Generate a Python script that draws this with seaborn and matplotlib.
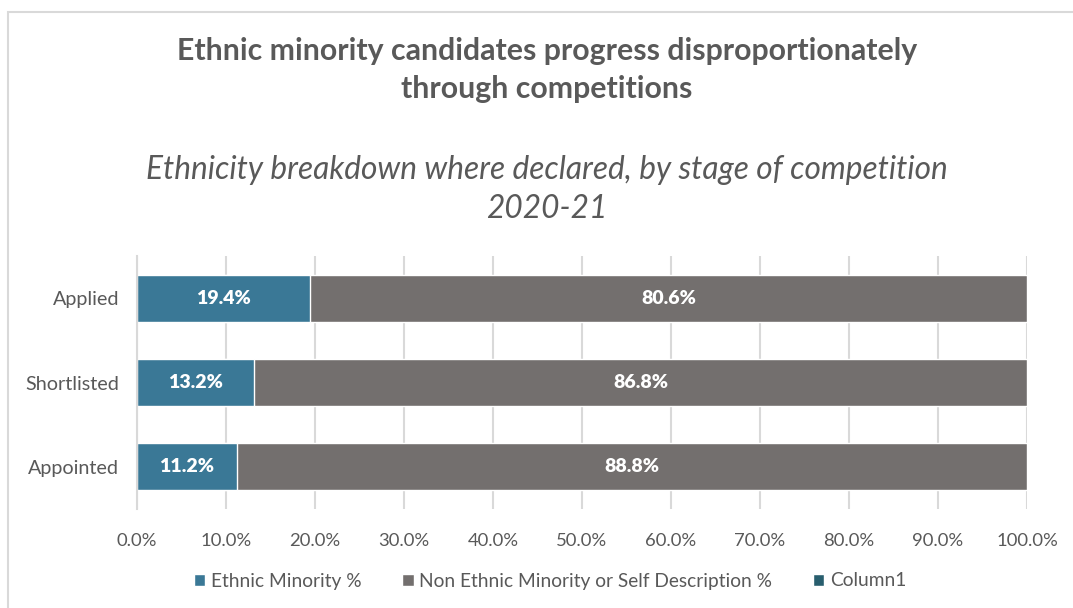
import matplotlib
matplotlib.use("Agg")
import matplotlib.pyplot as plt
import seaborn as sns
import pandas as pd
from matplotlib.patches import Rectangle, Patch

stages = ["Applied", "Shortlisted", "Appointed"]
ethnic_minority = [19.4, 13.2, 11.2]
non_ethnic_minority = [80.6, 86.8, 88.8]
column1 = [0.0, 0.0, 0.0]
xticks = [0, 10, 20, 30, 40, 50, 60, 70, 80, 90, 100]

BLUE = "#3A7896"
GREY = "#736F6E"
DARK = "#285E6E"
TXT = "#595959"

sns.set_theme(style="white")
plt.rcParams["font.family"] = ["Lato", "DejaVu Sans"]

df = pd.DataFrame({"stage": stages, "em": ethnic_minority, "nem": non_ethnic_minority, "c1": column1})
df["total"] = df["em"] + df["nem"]

fig = plt.figure(figsize=(10.73, 6.08), dpi=100)
W, H = 1073, 608
ax = fig.add_axes([137 / W, 1 - 509 / H, (1027 - 137) / W, (509 - 256) / H])

sns.barplot(data=df, y="stage", x="total", color=GREY, orient="h", width=0.56, ax=ax, saturation=1)
sns.barplot(data=df, y="stage", x="em", color=BLUE, orient="h", width=0.56, ax=ax, saturation=1)

for i, (e, n) in enumerate(zip(ethnic_minority, non_ethnic_minority)):
    ax.text(e / 2, i, f"{e:.1f}%", ha="center", va="center", color="white", fontsize=14, fontweight="heavy")
    ax.text(e + n / 2, i, f"{n:.1f}%", ha="center", va="center", color="white", fontsize=14, fontweight="heavy")

ax.set_xlim(0, 100)
ax.set_xticks(xticks)
ax.set_xticklabels([f"{t:.1f}%" for t in xticks], color=TXT, fontsize=13.3)
ax.tick_params(axis="x", length=0, pad=17)
ax.tick_params(axis="y", length=0, pad=13, labelsize=14.2, labelcolor=TXT)
ax.set_xlabel("")
ax.set_ylabel("")
ax.grid(axis="x", color="#D9D9D9", linewidth=1.5)
ax.set_axisbelow(True)
for s in ["top", "right", "bottom"]:
    ax.spines[s].set_visible(False)
ax.spines["left"].set_color("#D9D9D9")
ax.spines["left"].set_linewidth(1.5)

fig.text(547 / W, 1 - 51 / H, "Ethnic minority candidates progress disproportionately", ha="center", va="center",
         fontsize=21.8, fontweight="bold", color=TXT)
fig.text(547 / W, 1 - 89 / H, "through competitions", ha="center", va="center",
         fontsize=21.8, fontweight="bold", color=TXT)
fig.text(547 / W, 1 - 170 / H, "Ethnicity breakdown where declared, by stage of competition", ha="center", va="center",
         fontsize=22.8, fontstyle="italic", color=TXT)
fig.text(547 / W, 1 - 209 / H, "2020-21", ha="center", va="center",
         fontsize=22.8, fontstyle="italic", color=TXT)

fig.patches.append(Rectangle((8 / W, -0.1), 1.2, 1 - 12 / H + 0.1, transform=fig.transFigure,
                             fill=False, edgecolor="#D9D9D9", linewidth=1.5))

handles = [Patch(facecolor=BLUE, label="Ethnic Minority %"),
           Patch(facecolor=GREY, label="Non Ethnic Minority or Self Description %"),
           Patch(facecolor=DARK, label="Column1")]
leg = fig.legend(handles=handles, loc="center", bbox_to_anchor=(550 / W, 1 - 581 / H), ncol=3, frameon=False,
                 fontsize=13.8, handlelength=0.6, handleheight=0.6, handletextpad=0.3, columnspacing=2.1)
for t in leg.get_texts():
    t.set_color(TXT)

fig.savefig("out.png", dpi=100)
